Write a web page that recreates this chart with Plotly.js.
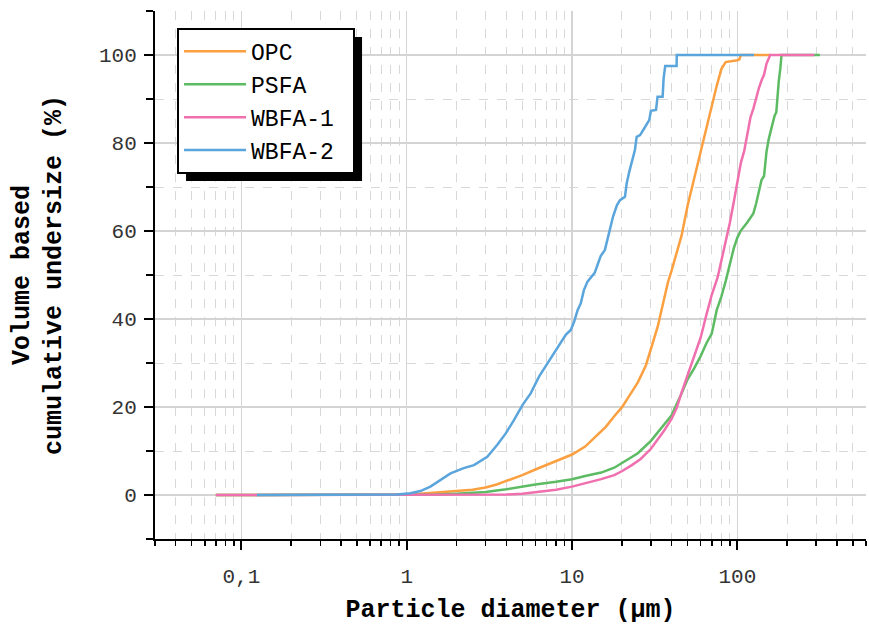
<!DOCTYPE html>
<html>
<head>
<meta charset="utf-8">
<script src="https://cdn.plot.ly/plotly-3.0.1.min.js"></script>
<style>body{margin:0;background:#fff}#chart{width:869px;height:625px}</style>
</head>
<body>
<div id="chart"></div>
<script>
// Series names
const seriesNames = ["OPC", "PSFA", "WBFA-1", "WBFA-2"];
const seriesColors = ["#FBA040", "#5DBB63", "#F06FAE", "#5AA5DC"];

// OPC
const opcX = [0.07, 0.5, 0.9, 1.2, 1.6, 2.0, 2.5, 3.0, 3.5, 4.0, 5.0, 6.0, 7.0, 8.0, 10, 12, 14, 16, 18, 20, 22, 25, 28, 30, 33, 36, 38, 40, 43, 46, 50, 53, 56, 60, 65, 70, 75, 80, 85, 100, 103, 105, 160];
const opcY = [0, 0, 0.1, 0.3, 0.6, 0.9, 1.2, 1.7, 2.4, 3.2, 4.5, 5.8, 6.8, 7.6, 9.2, 11.0, 13.3, 15.5, 17.9, 19.9, 22.3, 25.6, 29.5, 33.0, 38.3, 44.5, 48.3, 51.0, 55.3, 59.0, 65.8, 69.8, 73.0, 78.0, 83.5, 88.7, 93.0, 96.8, 98.4, 98.8, 99.0, 100, 100];

// PSFA
const psfaX = [0.07, 1.0, 1.5, 2.0, 3.0, 4.0, 5.0, 6.0, 8.0, 10, 12, 15, 18, 20, 25, 30, 35, 40, 45, 50, 55, 60, 65, 70, 75, 80, 85, 90, 95, 100, 105, 115, 125, 130, 135, 140, 145, 150, 155, 160, 168, 172, 175, 178, 182, 185, 316];
const psfaY = [0, 0, 0.1, 0.3, 0.7, 1.3, 1.9, 2.4, 3.0, 3.6, 4.3, 5.1, 6.2, 7.2, 9.5, 12.3, 15.3, 18.1, 22.3, 26.3, 28.9, 31.6, 34.5, 36.7, 42.0, 45.1, 48.6, 52.5, 56.0, 58.5, 60.1, 62.0, 64.0, 66.3, 69.3, 71.6, 72.5, 78.0, 81.0, 83.0, 86.2, 87.0, 91.5, 94.0, 97.0, 100, 100];

// WBFA-1
const wbfa1X = [0.07, 3.0, 4.0, 5.0, 6.0, 7.0, 8.0, 10, 12, 15, 18, 20, 23, 26, 30, 33, 36, 40, 43, 46, 50, 55, 60, 65, 70, 76, 80, 85, 90, 95, 100, 105, 110, 115, 120, 125, 130, 135, 140, 145, 150, 155, 158, 292];
const wbfa1Y = [0, 0, 0.1, 0.3, 0.6, 0.9, 1.2, 1.9, 2.6, 3.6, 4.5, 5.4, 6.8, 8.2, 10.5, 12.6, 14.6, 17.3, 19.8, 23.3, 27.3, 31.8, 35.8, 41.0, 45.5, 49.5, 53.2, 58.0, 61.8, 66.5, 71.0, 75.5, 78.2, 82.5, 85.8, 87.8, 90.5, 92.5, 94.2, 95.5, 98.0, 99.5, 100, 100];

// WBFA-2
const wbfa2X = [0.124, 0.69, 0.875, 1.05, 1.21, 1.39, 1.60, 1.84, 2.21, 2.55, 3.07, 3.53, 3.97, 4.45, 5.02, 5.62, 6.31, 7.10, 8.16, 9.16, 9.82, 10.3, 10.8, 11.3, 11.8, 12.4, 13.7, 14.9, 15.8, 16.8, 17.7, 18.7, 19.5, 20.9, 21.4, 22.2, 23.4, 24.0, 24.6, 25.8, 27.3, 29.3, 30.0, 32.2, 32.9, 35.3, 35.8, 36.6, 42.9, 43.0, 126];
const wbfa2Y = [0, 0, 0.1, 0.4, 0.9, 1.9, 3.4, 4.9, 6.1, 6.8, 8.7, 11.4, 14.0, 17.0, 20.5, 23.1, 26.9, 29.9, 33.7, 36.4, 37.5, 39.4, 42.0, 43.6, 46.6, 48.5, 50.5, 54.3, 55.7, 59.8, 63.3, 65.9, 67.0, 67.8, 70.8, 73.5, 76.9, 78.4, 81.4, 81.8, 83.3, 85.2, 87.3, 87.5, 90.5, 90.5, 94.7, 97.5, 97.5, 100, 100];

// Axis ticks
const xTickVals = [0.1, 1, 10, 100];
const xTickText = ["0,1", "1", "10", "100"];
const yTickVals = [0, 20, 40, 60, 80, 100];

const xs = [opcX, psfaX, wbfa1X, wbfa2X];
const ys = [opcY, psfaY, wbfa1Y, wbfa2Y];

const traces = seriesNames.map((n, i) => ({
  type: "scatter", mode: "lines", name: n,
  x: xs[i], y: ys[i],
  line: {color: seriesColors[i], width: 2.5}
}));

const minorX = [];
[0.01, 0.1, 1, 10, 100].forEach(d => { for (let k = 2; k <= 9; k++) minorX.push(d * k); });

const mono = '"Courier New", "Liberation Mono", monospace';
const ML = 155, MT = 11, PW = 869 - 155 - 3, PH = 625 - 11 - 86;
const LEGEND_EXTRA_W = 14;

const layout = {
  width: 869, height: 625,
  margin: {l: ML, r: 3, t: MT, b: 86},
  paper_bgcolor: "#fff", plot_bgcolor: "#fff",
  showlegend: true,
  font: {family: mono, color: "#333"},
  xaxis: {
    type: "log", range: [Math.log10(0.03), Math.log10(600)],
    tickmode: "array", tickvals: xTickVals, ticktext: xTickText,
    ticks: "outside", ticklen: 9, tickwidth: 2, tickcolor: "#000",
    ticklabelstandoff: 8,
    tickfont: {family: mono, size: 21, color: "#333"},
    showline: true, linecolor: "#000", linewidth: 2,
    showgrid: true, gridcolor: "#d4d4d4", gridwidth: 1.2,
    zeroline: false,
    minor: {tickmode: "array", tickvals: minorX, ticks: "outside", ticklen: 5, tickwidth: 1.5, tickcolor: "#000",
            showgrid: true, gridcolor: "#d8d8d8", griddash: "dash", gridwidth: 1},
    title: {text: "<b>Particle diameter (μm)</b>", font: {family: mono, size: 25, color: "#000"}, standoff: 16}
  },
  yaxis: {
    range: [-10, 110],
    tickmode: "array", tickvals: yTickVals,
    ticks: "outside", ticklen: 9, tickwidth: 2, tickcolor: "#000",
    ticklabelstandoff: 3,
    tickfont: {family: mono, size: 21, color: "#333"},
    showline: true, linecolor: "#000", linewidth: 2,
    showgrid: true, gridcolor: "#d4d4d4", gridwidth: 1.2,
    zeroline: false,
    minor: {dtick: 10, ticks: "outside", ticklen: 7, tickwidth: 1.5, tickcolor: "#000",
            showgrid: true, gridcolor: "#d8d8d8", griddash: "dash", gridwidth: 1},
    title: {text: "<b>Volume based<br>cumulative undersize (%)</b>", font: {family: mono, size: 25, color: "#000"}, standoff: 30}
  },
  legend: {
    x: 0.031, y: 0.968, xanchor: "left", yanchor: "top",
    bgcolor: "#fff", bordercolor: "#000", borderwidth: 2,
    font: {family: mono, size: 23, color: "#000"},
    itemwidth: 62, tracegroupgap: 0
  },
  shapes: [{
    type: "rect", xref: "paper", yref: "paper", layer: "above",
    x0: (185 - ML) / PW, x1: (364 - ML) / PW, y0: (MT + PH - 168) / PH, y1: (MT + PH - 37) / PH,
    fillcolor: "#000", line: {width: 0}
  }]
};

Plotly.newPlot("chart", traces, layout, {displayModeBar: false, staticPlot: true}).then(gd => {
  const bg = gd.querySelector(".legend rect.bg");
  if (!bg) return;
  const r = bg.getBoundingClientRect();
  const c = gd.getBoundingClientRect();
  const off = 8;
  const l = r.left - c.left + off, t = r.top - c.top + off;
  const rr = r.right - c.left + off + LEGEND_EXTRA_W, b = r.bottom - c.top + off;
  return Plotly.relayout(gd, {
    "shapes[0].x0": (l - ML) / PW, "shapes[0].x1": (rr - ML) / PW,
    "shapes[0].y0": (MT + PH - b) / PH, "shapes[0].y1": (MT + PH - t) / PH
  }).then(() => {
    const bg2 = gd.querySelector(".legend rect.bg");
    if (bg2) {
      const w = parseFloat(bg2.getAttribute("width"));
      bg2.setAttribute("width", w + LEGEND_EXTRA_W);
    }
  });
});
</script>
</body>
</html>
